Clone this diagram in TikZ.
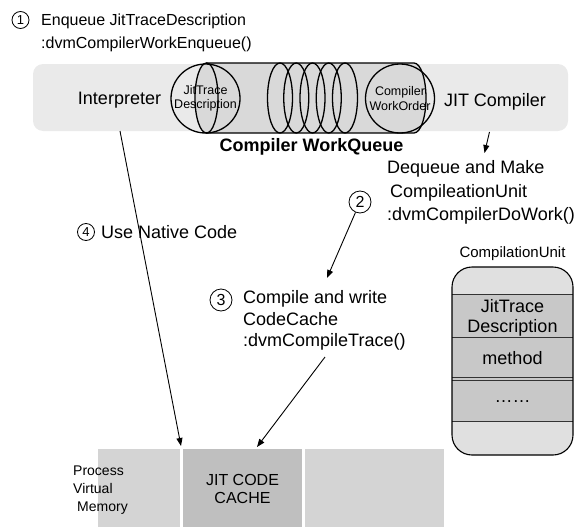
\documentclass[tikz,border=0pt]{standalone}
\usepackage{fontspec}
\setmainfont{Liberation Sans}
\usetikzlibrary{arrows.meta}
\definecolor{bandgray}{HTML}{EAEAEA}
\definecolor{tubegray}{HTML}{D9D9D9}
\definecolor{memgray}{HTML}{D4D4D4}
\definecolor{cachegray}{HTML}{BFBFBF}
\definecolor{capgray}{HTML}{E0E0E0}
\definecolor{cellgray}{HTML}{C8C8C8}
\begin{document}
\begin{tikzpicture}[x=1pt,y=-1pt,
    num/.style={circle,draw,line width=0.8pt,inner sep=0pt},
    big/.style={font=\fontsize{18}{24}\selectfont,align=left,inner sep=0pt},
    small/.style={font=\fontsize{12.5}{14.5}\selectfont,align=center,inner sep=0pt},
    ring/.style={line width=1.3pt},
    arr/.style={-{Triangle[length=8pt,width=6pt]},line width=0.9pt}]
  \useasboundingbox (0,0) rectangle (588,527);
  \fill[bandgray,rounded corners=10pt] (33,64) rectangle (568,131);
  \fill[tubegray] (206,63) -- (414,63)
    arc[start angle=-90,end angle=90,x radius=12,y radius=35] -- (206,133)
    arc[start angle=90,end angle=270,x radius=11.5,y radius=35] -- cycle;
  \draw[ring] (206,63) -- (414,63)
    arc[start angle=-90,end angle=90,x radius=12,y radius=35] -- (206,133);
  \draw[ring] (206.5,98) ellipse[x radius=11.5,y radius=35];
  \foreach \cx in {280,296.25,312.5,328.75,345}
    \draw[ring] (\cx,98) ellipse[x radius=12.5,y radius=35];
  \fill[memgray] (98,449) rectangle (180,527);
  \fill[cachegray] (183,449) rectangle (302,527);
  \fill[memgray] (305,449) rectangle (444,527);
  \fill[capgray,rounded corners=20pt] (452,267) rectangle (573,455);
  \fill[cellgray] (452,294) rectangle (573,421);
  \draw[line width=1pt,black!80] (452,294) -- (573,294) (452,337) -- (573,337)
    (452,377) -- (573,377) (452,380) -- (573,380) (452,421) -- (573,421);
  \draw[line width=1.1pt,rounded corners=20pt] (452,267) rectangle (573,455);
  \draw
    (20.5,20) node[num,minimum size=17pt,font=\fontsize{13}{13}\selectfont] (step1){1}
    (41,14) node[big,anchor=north west,font=\fontsize{16}{23}\selectfont] (hdr){Enqueue JitTraceDescription\\:dvmCompilerWorkEnqueue()}
    (119.5,100.5) node[big] (interp){Interpreter}
    (495,101.5) node[big] (jitc){JIT Compiler}
    (205.5,98.5) node[circle,draw,ring,minimum size=69pt,inner sep=0pt,small] (jtd){JitTrace\\Description}
    (400,98.5) node[circle,draw,ring,minimum size=69pt,inner sep=0pt,small] (cwo){Compiler\\WorkOrder}
    (311.5,146.5) node[big,font=\fontsize{18}{24}\selectfont\bfseries] (queue){Compiler WorkQueue}
    (387,160.5) node[big,anchor=north west,font=\fontsize{18}{23.5}\selectfont] (deq){Dequeue and Make\\\hspace{3pt}CompileationUnit\\:dvmCompilerDoWork()}
    (360,202) node[num,minimum size=22pt,font=\fontsize{16}{16}\selectfont] (step2){2}
    (86,232) node[num,minimum size=17pt,font=\fontsize{13}{13}\selectfont] (step4){4}
    (101,232) node[big,anchor=west] (usenative){Use Native Code}
    (221,300) node[num,minimum size=22pt,font=\fontsize{16}{16}\selectfont] (step3){3}
    (243,290.5) node[big,anchor=north west,font=\fontsize{18}{21.5}\selectfont] (compile){Compile and write\\CodeCache\\:dvmCompileTrace()}
    (512.5,254) node[big,font=\fontsize{15}{18}\selectfont] (cutitle){CompilationUnit}
    (512.5,318) node[big,align=center,font=\fontsize{18}{20}\selectfont] (cujit){JitTrace\\Description}
    (512.5,358) node[big] (cumethod){method}
    (512.5,402) node[big] (cumore){……}
    (73,466) node[big,anchor=north west,font=\fontsize{14}{18}\selectfont] (pvm){Process\\Virtual\\\hspace{4pt}Memory}
    (242.5,489) node[big,align=center,font=\fontsize{16}{18}\selectfont] (cache){JIT CODE\\CACHE};
  \coordinate (jitout) at (489.5,132);
  \coordinate (deqin) at (484.5,153);
  \coordinate (compin) at (327,278);
  \coordinate (compout) at (325,357);
  \coordinate (cachein) at (257,447);
  \coordinate (interpout) at (120,131);
  \coordinate (memin) at (181,446);
  \begin{scope}[arr]
    \draw (jitout) to (deqin);
    \draw (step2) to (compin);
    \draw (compout) to (cachein);
    \draw (interpout) to (memin);
  \end{scope}
\end{tikzpicture}
\end{document}
